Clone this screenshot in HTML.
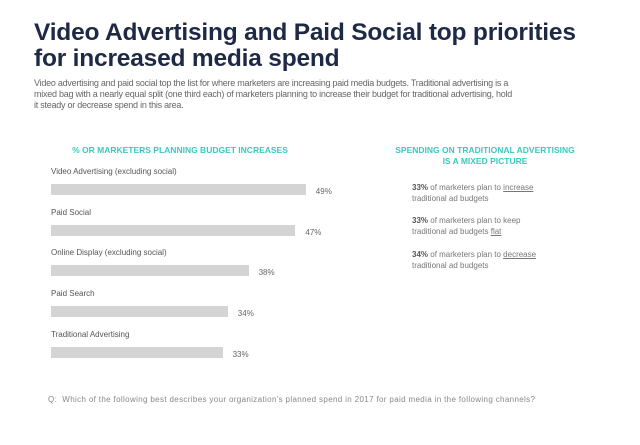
<!DOCTYPE html>
<html><head><meta charset="utf-8"><style>
body{margin:0;width:640px;height:445px;background:#fff;font-family:"Liberation Sans",sans-serif;position:relative;overflow:hidden}
.a{position:absolute}
h1{position:absolute;left:34px;top:20px;margin:0;font-size:24.5px;line-height:26px;color:#1e2a45;font-weight:bold;letter-spacing:-0.2px}
.sub{left:34px;top:78px;width:575px;font-size:9px;line-height:11.2px;color:#666;letter-spacing:-0.25px}
.hd{color:#3cc8c0;font-weight:bold;font-size:8.5px;text-align:center}
.lbl{font-size:8px;color:#555}
.val{font-size:8px;color:#666}
.bar{background:#d4d4d4;height:11px}
.rt{font-size:8px;color:#777;line-height:11px;left:412px}
.rt b{color:#555}
.q{left:48px;top:395px;font-size:8px;color:#888;letter-spacing:0.35px}
</style></head><body>
<h1>Video Advertising and Paid Social top priorities<br>for increased media spend</h1>
<div class="a sub">Video advertising and paid social top the list for where marketers are increasing paid media budgets. Traditional advertising is a<br>mixed bag with a nearly equal split (one third each) of marketers planning to increase their budget for traditional advertising, hold<br>it steady or decrease spend in this area.</div>
<div class="a hd" style="left:50px;top:145px;width:260px">% OR MARKETERS PLANNING BUDGET INCREASES</div>
<div class="a hd" style="left:370px;top:145px;width:230px;line-height:11px">SPENDING ON TRADITIONAL ADVERTISING<br>IS A MIXED PICTURE</div>
<div id="chart"></div>
<div class="a rt" style="top:182px"><b>33%</b> of marketers plan to <u>increase</u><br>traditional ad budgets</div>
<div class="a rt" style="top:215px"><b>33%</b> of marketers plan to keep<br>traditional ad budgets <u>flat</u></div>
<div class="a rt" style="top:249px"><b>34%</b> of marketers plan to <u>decrease</u><br>traditional ad budgets</div>
<div class="a q">Q:&nbsp; Which of the following best describes your organization's planned spend in 2017 for paid media in the following channels?</div>
<script>
const categories=["Video Advertising (excluding social)","Paid Social","Online Display (excluding social)","Paid Search","Traditional Advertising"];
const values=[49,47,38,34,33];
const valueLabels=["49%","47%","38%","34%","33%"];
const x0=51,pxPer=5.2,top0=167,step=40.7;
const c=document.getElementById('chart');
categories.forEach((cat,i)=>{
 const y=top0+i*step;
 const l=document.createElement('div');l.className='a lbl';l.style.left='51px';l.style.top=y+'px';l.textContent=cat;
 
 
 c.appendChild(l);
 const b=document.createElement('div');b.className='a bar';b.style.left=x0+'px';b.style.top=(y+17)+'px';b.style.width=(values[i]*pxPer)+'px';
 
 
 c.appendChild(b);
 const v=document.createElement('div');v.className='a val';v.style.left=(x0+values[i]*pxPer+10)+'px';v.style.top=(y+20)+'px';v.textContent=valueLabels[i];
 
 
 c.appendChild(v);
});
</script>
</body></html>
